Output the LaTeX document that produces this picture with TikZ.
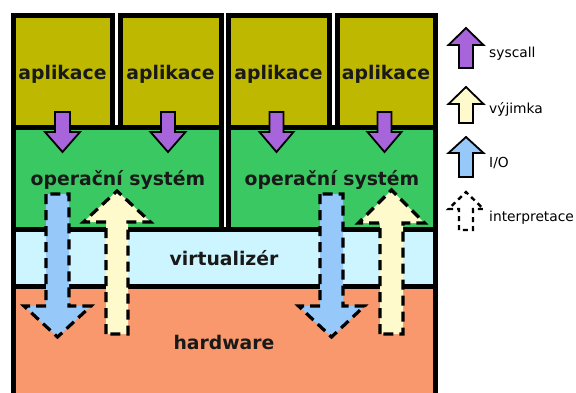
\documentclass[tikz,border=0pt]{standalone}
\usepackage{fontspec}
\setmainfont{DejaVu Sans}
\definecolor{appfill}{RGB}{190,184,0}
\definecolor{osfill}{RGB}{58,200,98}
\definecolor{virtfill}{RGB}{205,245,255}
\definecolor{hwfill}{RGB}{248,152,108}
\definecolor{scfill}{RGB}{168,100,218}
\definecolor{exfill}{RGB}{255,250,204}
\definecolor{iofill}{RGB}{150,200,250}
% block arrow: style, centre x, tail y, head-base y, tip y, stem half width, head half width
\newcommand\blkarrow[7]{%
  \path[#1] ({#2-#6},#3) -- ({#2-#6},#4) -- ({#2-#7},#4) -- (#2,#5)
    -- ({#2+#7},#4) -- ({#2+#6},#4) -- ({#2+#6},#3) -- cycle;}
\begin{document}
\begin{tikzpicture}[x=1pt,y=-1pt,
  layer/.style={draw=black,line width=5pt},
  big/.style={font=\fontsize{18.8}{21}\selectfont\bfseries,text=black!90,inner sep=0pt},
  legtext/.style={font=\fontsize{13.8}{15}\selectfont,anchor=base west,inner sep=0pt},
  solidarrow/.style={draw=black,line width=1.8pt,line join=miter},
  dasharrow/.style={draw=black,line width=3.2pt,dash pattern=on 10pt off 6pt},
  legdash/.style={draw=black,line width=2.4pt,dash pattern=on 5pt off 4pt}]
\useasboundingbox (0,0) rectangle (576,392);
\clip (0,0) rectangle (576,392);
\fill[white] (0,0) rectangle (576,392);

% hardware and virtualizer layers
\filldraw[layer,fill=hwfill] (13,420) -- (13,286) -- (435.5,286) -- (435.5,420);
\filldraw[layer,fill=virtfill] (13,229.5) rectangle (435.5,286);

% two guest systems
\filldraw[layer,fill=osfill] (13,127) rectangle (221,229.5);
\filldraw[layer,fill=osfill] (228.5,127) rectangle (435.5,229.5);

% applications
\filldraw[layer,fill=appfill] (13,15) rectangle (112,127);
\filldraw[layer,fill=appfill] (120.5,15) rectangle (221,127);
\filldraw[layer,fill=appfill] (228.5,15) rectangle (329,127);
\filldraw[layer,fill=appfill] (337,15) rectangle (435.5,127);

\node[big,anchor=base] (app1) at (62.5,79) {aplikace};
\node[big,anchor=base] (app2) at (170.5,79) {aplikace};
\node[big,anchor=base] (app3) at (278.5,79) {aplikace};
\node[big,anchor=base] (app4) at (386,79) {aplikace};
\node[big,anchor=base] (os1) at (118,185) {operační systém};
\node[big,anchor=base] (os2) at (332,185) {operační systém};
\node[big,anchor=base] (virt) at (224,265) {virtualizér};
\node[big,anchor=base] (hw) at (224,349) {hardware};

% system calls
\blkarrow{solidarrow,fill=scfill}{62.5}{112}{132}{152}{7.5}{17.5}
\blkarrow{solidarrow,fill=scfill}{168}{112}{132}{152}{7}{17.5}
\blkarrow{solidarrow,fill=scfill}{276.5}{112}{132}{152}{7}{17}
\blkarrow{solidarrow,fill=scfill}{384.5}{112}{132}{152}{7}{17}

% interpreted I/O and exceptions
\blkarrow{dasharrow,fill=iofill}{57.5}{194}{306}{337}{11.5}{33.5}
\blkarrow{dasharrow,fill=exfill}{117}{334}{222}{191}{11}{33.5}
\blkarrow{dasharrow,fill=iofill}{331.5}{194}{306}{337}{11.5}{33}
\blkarrow{dasharrow,fill=exfill}{391.5}{334}{223}{190}{11.5}{33}

% legend
\blkarrow{solidarrow,fill=scfill}{466}{68}{45}{28}{7}{17.5}
\blkarrow{solidarrow,fill=exfill}{466}{123}{104}{87}{7}{17.5}
\blkarrow{solidarrow,fill=iofill}{466}{177}{153}{137}{7}{17.5}
\blkarrow{legdash}{466}{230}{209}{192}{7}{17.5}
\node[legtext] (lsc) at (489,57) {syscall};
\node[legtext] (lex) at (489,113) {výjimka};
\node[legtext] (lio) at (489,167) {I/O};
\node[legtext] (lin) at (489,221) {interpretace};
\end{tikzpicture}
\end{document}
